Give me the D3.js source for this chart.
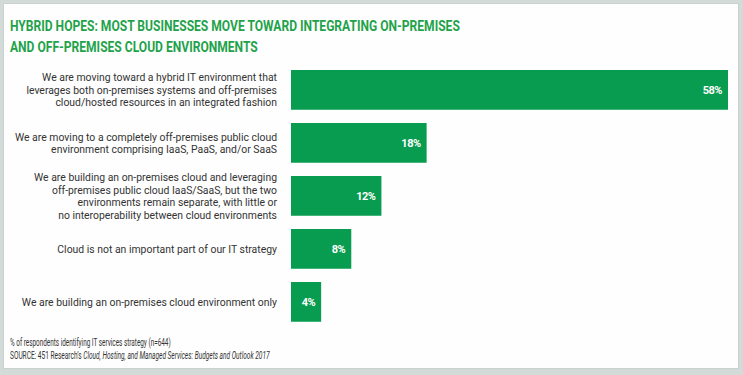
<!DOCTYPE html>
<html>
<head>
<meta charset="utf-8">
<script src="https://cdn.jsdelivr.net/npm/d3@7"></script>
<style>
  body { margin: 0; background: #d3dbd9; }
  svg { display: block; }
</style>
</head>
<body>
<div id="chart"></div>
<script>
// data
var labels = [
  ["We are moving toward a hybrid IT environment that", "leverages both on-premises systems and off-premises", "cloud/hosted resources in an integrated fashion"],
  ["We are moving to a completely off-premises public cloud", "environment comprising IaaS, PaaS, and/or SaaS"],
  ["We are building an on-premises cloud and leveraging", "off-premises public cloud IaaS/SaaS, but the two", "environments remain separate, with little or", "no interoperability between cloud environments"],
  ["Cloud is not an important part of our IT strategy"],
  ["We are building an on-premises cloud environment only"]
];
var values = [58, 18, 12, 8, 4];
var titleLines = ["HYBRID HOPES: MOST BUSINESSES MOVE TOWARD INTEGRATING ON-PREMISES", "AND OFF-PREMISES CLOUD ENVIRONMENTS"];
var note = "% of respondents identifying IT services strategy (n=644)";

var width = 743, height = 375;
var font = "Roboto, 'Noto Sans', sans-serif";
var green = "#079c4f";

var svg = d3.select("#chart").append("svg")
  .attr("width", width)
  .attr("height", height);

// squeeze a text horizontally (the original uses a condensed face)
function squeeze(node, ax, target) {
  var w = node.getComputedTextLength();
  var k = target / w;
  d3.select(node).attr("transform", "translate(" + ax + ",0) scale(" + k + ",1) translate(" + (-ax) + ",0)");
  return k;
}

// gray frame + white panel
svg.append("rect").attr("width", width).attr("height", height).attr("fill", "#d3dbd9");
svg.append("rect")
  .attr("x", 3.5).attr("y", 3.5).attr("width", 735).attr("height", 365)
  .attr("fill", "#fefefe").attr("stroke", "#c9d2d0").attr("stroke-width", 1);

// title
var title = svg.append("g").selectAll("text")
  .data(titleLines)
  .enter().append("text")
    .attr("x", 10)
    .attr("y", function(d, i){ return 31 + i * 21 })
    .attr("fill", "#1ea34b")
    .style("font-family", font)
    .style("font-weight", "bold")
    .style("font-size", "15px")
    .text(function(d){ return d });
var tk = 450 / title.nodes()[0].getComputedTextLength();
title.attr("transform", "translate(10,0) scale(" + tk + ",1) translate(-10,0)");

var cats = labels.map(function(d, i){ return "c" + i });

var x = d3.scaleLinear()
  .domain([0, 58])
  .range([291, 728]);

var y = d3.scaleBand()
  .domain(cats)
  .range([70, 321.75])
  .paddingInner(0.25)
  .paddingOuter(0);

// bars
svg.append("g").selectAll("rect")
  .data(values)
  .enter().append("rect")
    .attr("x", x(0))
    .attr("y", function(d, i){ return y(cats[i]) })
    .attr("width", function(d){ return x(d) - x(0) })
    .attr("height", y.bandwidth())
    .attr("fill", green);

// value labels
svg.append("g").selectAll("text")
  .data(values)
  .enter().append("text")
    .attr("x", function(d){ return x(d) - 6 })
    .attr("y", function(d, i){ return y(cats[i]) + y.bandwidth() / 2 })
    .attr("dy", "0.35em")
    .attr("text-anchor", "end")
    .attr("fill", "#ffffff")
    .style("font-family", font)
    .style("font-weight", "bold")
    .style("font-size", "11px")
    .style("letter-spacing", "-0.5px")
    .text(function(d){ return d + "%" });

// category labels, several lines each, centred on the bar
var lineH = 12.6;
var lab = svg.append("g").selectAll("text")
  .data(labels)
  .enter().append("text")
    .attr("text-anchor", "end")
    .attr("fill", "#333333")
    .style("font-family", font)
    .style("font-size", "11.5px");

lab.each(function(lines, i){
  var cy = y(cats[i]) + y.bandwidth() / 2;
  var top = cy - (lines.length - 1) * lineH / 2;
  d3.select(this).selectAll("tspan")
    .data(lines)
    .enter().append("tspan")
      .attr("x", 277)
      .attr("y", function(d, j){ return top + j * lineH })
      .attr("dy", "0.35em")
      .text(function(d){ return d });
});
// one common squeeze, taken from the first line of the first label
var firstLine = lab.nodes()[0].querySelector("tspan");
var lk = 235 / firstLine.getComputedTextLength();
lab.attr("transform", "translate(277,0) scale(" + lk + ",1) translate(-277,0)");

// footer
var noteT = svg.append("text")
  .attr("x", 10).attr("y", 346)
  .attr("fill", "#333")
  .style("font-family", font)
  .style("font-size", "10px")
  .text(note);

var src = svg.append("text")
  .attr("x", 10).attr("y", 359.5)
  .attr("fill", "#333")
  .style("font-family", font)
  .style("font-size", "10px");
src.append("tspan").text("SOURCE: 451 Research\u2019s ");
src.append("tspan").style("font-style", "italic").text("Cloud, Hosting, and Managed Services: Budgets and Outlook 2017");

squeeze(noteT.node(), 10, 161);
squeeze(src.node(), 10, 260);
</script>
</body>
</html>
